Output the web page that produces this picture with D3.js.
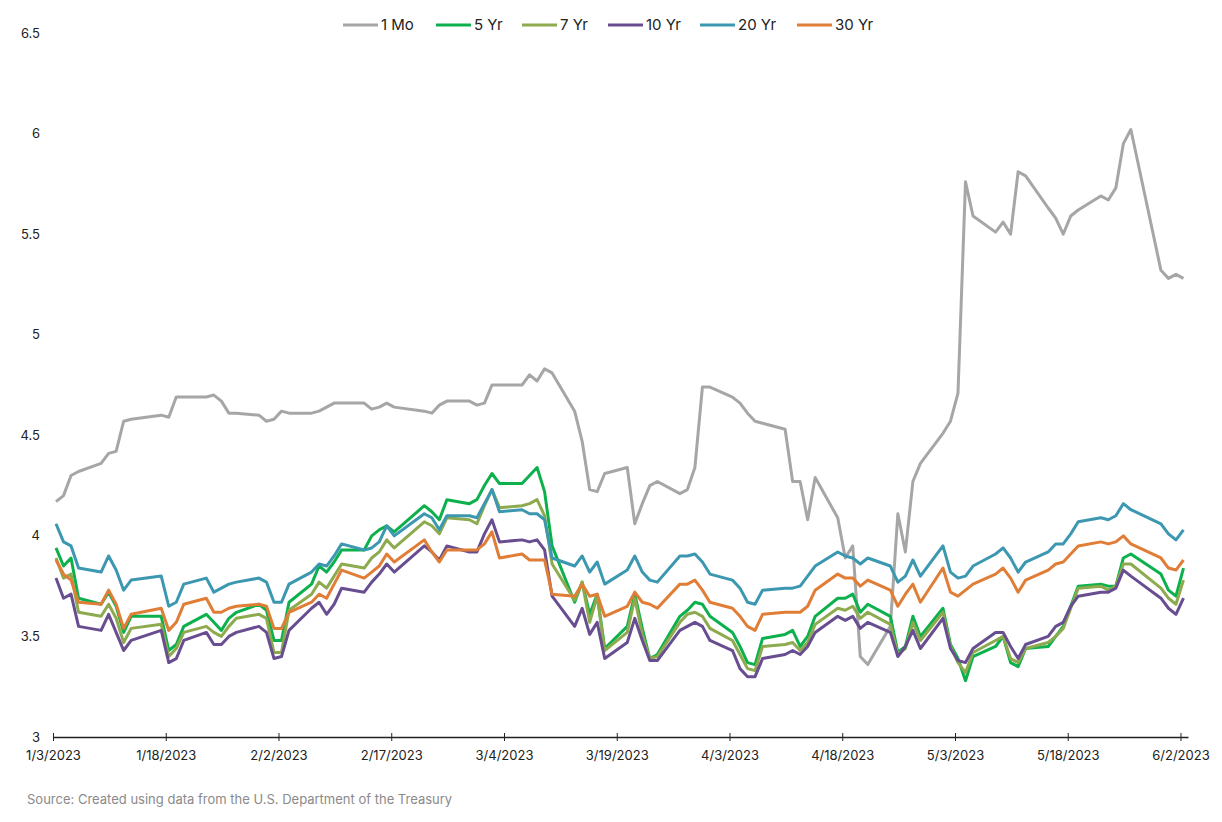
<!DOCTYPE html>
<html lang="en">
<head>
<meta charset="UTF-8">
<title>Treasury yields, Jan - Jun 2023</title>
<script src="https://d3js.org/d3.v7.min.js"></script>
<style>
  body { margin: 0; background: #fff; }
  svg { font-family: Inter, "Open Sans", sans-serif; }
</style>
</head>
<body>
<svg id="chart" width="1222" height="822"></svg>
<script>
// business days, 2023
const dates = [
  "1/3","1/4","1/5","1/6","1/9","1/10","1/11","1/12","1/13","1/17","1/18","1/19","1/20","1/23","1/24","1/25","1/26","1/27","1/30","1/31",
  "2/1","2/2","2/3","2/6","2/7","2/8","2/9","2/10","2/13","2/14","2/15","2/16","2/17","2/21","2/22","2/23","2/24","2/27","2/28",
  "3/1","3/2","3/3","3/6","3/7","3/8","3/9","3/10","3/13","3/14","3/15","3/16","3/17","3/20","3/21","3/22","3/23","3/24","3/27","3/28","3/29","3/30","3/31",
  "4/3","4/4","4/5","4/6","4/7","4/10","4/11","4/12","4/13","4/14","4/17","4/18","4/19","4/20","4/21","4/24","4/25","4/26","4/27","4/28",
  "5/1","5/2","5/3","5/4","5/5","5/8","5/9","5/10","5/11","5/12","5/15","5/16","5/17","5/18","5/19","5/22","5/23","5/24","5/25","5/26","5/30","5/31",
  "6/1","6/2"
];

const mo1 = [
  4.17,4.20,4.30,4.32,4.36,4.41,4.42,4.57,4.58,4.60,4.59,4.69,4.69,4.69,4.70,4.67,4.61,4.61,4.60,4.57,
  4.58,4.62,4.61,4.61,4.62,4.64,4.66,4.66,4.66,4.63,4.64,4.66,4.64,4.62,4.61,4.65,4.67,4.67,4.65,
  4.66,4.75,4.75,4.75,4.80,4.77,4.83,4.81,4.62,4.47,4.23,4.22,4.31,4.34,4.06,4.16,4.25,4.27,4.21,4.23,4.34,4.74,4.74,
  4.69,4.66,4.61,4.57,4.56,4.53,4.27,4.27,4.08,4.29,4.09,3.89,3.95,3.40,3.36,3.55,4.11,3.92,4.27,4.36,
  4.51,4.57,4.71,5.76,5.59,5.51,5.56,5.50,5.81,5.79,5.63,5.58,5.50,5.59,5.62,5.69,5.67,5.73,5.95,6.02,5.32,5.28,
  5.30,5.28
];
const yr5 = [
  3.94,3.85,3.89,3.69,3.66,3.72,3.65,3.52,3.60,3.60,3.43,3.46,3.55,3.61,3.57,3.53,3.59,3.62,3.66,3.63,
  3.48,3.48,3.67,3.76,3.85,3.82,3.87,3.93,3.93,4.00,4.03,4.05,4.02,4.15,4.12,4.08,4.18,4.16,4.18,
  4.25,4.31,4.26,4.26,4.30,4.34,4.22,3.95,3.67,3.77,3.61,3.71,3.44,3.55,3.71,3.54,3.39,3.41,3.60,3.63,3.67,3.66,3.60,
  3.52,3.45,3.37,3.36,3.49,3.51,3.53,3.45,3.50,3.60,3.69,3.69,3.71,3.62,3.66,3.60,3.42,3.45,3.60,3.50,
  3.64,3.46,3.39,3.28,3.40,3.45,3.50,3.37,3.35,3.44,3.45,3.50,3.55,3.65,3.75,3.76,3.75,3.75,3.89,3.91,3.81,3.73,
  3.70,3.84
];
const yr7 = [
  3.89,3.79,3.81,3.62,3.60,3.66,3.59,3.47,3.54,3.56,3.40,3.44,3.52,3.55,3.52,3.50,3.55,3.59,3.61,3.59,
  3.42,3.42,3.63,3.71,3.77,3.74,3.80,3.86,3.84,3.89,3.92,3.98,3.94,4.07,4.05,4.01,4.09,4.08,4.06,
  4.15,4.23,4.14,4.15,4.16,4.18,4.10,3.86,3.68,3.77,3.57,3.70,3.43,3.52,3.69,3.51,3.39,3.40,3.57,3.61,3.62,3.60,3.54,
  3.48,3.41,3.34,3.33,3.45,3.46,3.47,3.43,3.47,3.56,3.64,3.63,3.65,3.59,3.62,3.56,3.41,3.44,3.57,3.48,
  3.62,3.45,3.37,3.32,3.42,3.48,3.50,3.39,3.37,3.44,3.47,3.50,3.54,3.64,3.74,3.75,3.73,3.75,3.86,3.86,3.74,3.69,
  3.66,3.78
];
const yr10 = [
  3.79,3.69,3.71,3.55,3.53,3.61,3.52,3.43,3.48,3.53,3.37,3.39,3.48,3.52,3.46,3.46,3.50,3.52,3.55,3.52,
  3.39,3.40,3.53,3.64,3.67,3.61,3.66,3.74,3.72,3.77,3.81,3.86,3.82,3.95,3.92,3.88,3.95,3.92,3.92,
  4.01,4.08,3.97,3.98,3.97,3.98,3.93,3.70,3.55,3.64,3.51,3.57,3.39,3.47,3.59,3.48,3.38,3.38,3.53,3.55,3.57,3.55,3.48,
  3.43,3.34,3.30,3.30,3.39,3.41,3.43,3.41,3.45,3.52,3.60,3.58,3.60,3.54,3.57,3.52,3.40,3.45,3.53,3.44,
  3.59,3.44,3.38,3.37,3.44,3.52,3.52,3.45,3.39,3.46,3.50,3.55,3.57,3.65,3.70,3.72,3.72,3.74,3.83,3.80,3.69,3.64,
  3.61,3.69
];
const yr20 = [
  4.06,3.97,3.95,3.84,3.82,3.90,3.83,3.73,3.78,3.80,3.65,3.67,3.76,3.79,3.72,3.74,3.76,3.77,3.79,3.77,
  3.67,3.67,3.76,3.82,3.86,3.85,3.90,3.96,3.93,3.94,3.97,4.05,4.00,4.11,4.09,4.03,4.10,4.10,4.09,
  4.16,4.23,4.12,4.13,4.11,4.11,4.08,3.89,3.85,3.90,3.82,3.87,3.76,3.83,3.90,3.82,3.78,3.77,3.90,3.90,3.91,3.87,3.81,
  3.78,3.74,3.67,3.66,3.73,3.74,3.74,3.75,3.80,3.85,3.92,3.90,3.89,3.86,3.89,3.85,3.77,3.80,3.88,3.80,
  3.95,3.82,3.79,3.80,3.85,3.91,3.94,3.89,3.82,3.87,3.92,3.96,3.96,4.01,4.07,4.09,4.08,4.10,4.16,4.13,4.06,4.01,
  3.98,4.03
];
const yr30 = [
  3.88,3.81,3.78,3.67,3.66,3.73,3.66,3.54,3.61,3.64,3.53,3.57,3.66,3.69,3.62,3.62,3.64,3.65,3.66,3.65,
  3.54,3.54,3.62,3.67,3.71,3.69,3.76,3.83,3.79,3.82,3.85,3.91,3.87,3.98,3.92,3.87,3.93,3.93,3.93,
  3.96,4.02,3.89,3.91,3.88,3.88,3.88,3.71,3.70,3.76,3.70,3.71,3.60,3.65,3.72,3.67,3.66,3.64,3.76,3.76,3.78,3.73,3.67,
  3.64,3.60,3.55,3.53,3.61,3.62,3.62,3.62,3.65,3.73,3.81,3.79,3.79,3.75,3.78,3.73,3.65,3.71,3.76,3.67,
  3.84,3.72,3.70,3.73,3.76,3.81,3.84,3.79,3.72,3.78,3.83,3.86,3.87,3.91,3.95,3.97,3.96,3.97,4.00,3.96,3.89,3.84,
  3.83,3.88
];

const yTicks = [3, 3.5, 4, 4.5, 5, 5.5, 6, 6.5];
const xTickLabels = ["1/3","1/18","2/2","2/17","3/4","3/19","4/3","4/18","5/3","5/18","6/2"];

const series = [
  { name: "1 Mo",  color: "#a6a6a6", values: mo1 },
  { name: "5 Yr",  color: "#0cb04c", values: yr5 },
  { name: "7 Yr",  color: "#8dab4e", values: yr7 },
  { name: "10 Yr", color: "#684e90", values: yr10 },
  { name: "20 Yr", color: "#3c97b1", values: yr20 },
  { name: "30 Yr", color: "#e07d36", values: yr30 }
];

const parse = s => { const [m, d] = s.split("/").map(Number); return new Date(2023, m - 1, d); };
const days = dates.map(parse);

const svg = d3.select("#chart");

const x = d3.scaleTime()
  .domain([new Date(2023, 0, 3), new Date(2023, 5, 3)])
  .range([53, 1188]);
const y = d3.scaleLinear().domain([3, 6.5]).range([737, 33]);

// points sit a little past the day's tick, like the original
const pointShift = 3;

// y labels (no axis line, no grid)
svg.append("g")
  .selectAll("text")
  .data(yTicks)
  .join("text")
  .attr("x", 40)
  .attr("y", d => y(d))
  .attr("dy", "0.35em")
  .attr("text-anchor", "end")
  .attr("font-size", 13)
  .attr("fill", "#222")
  .text(d => String(d));

// x axis
const xAxis = svg.append("g")
  .attr("transform", `translate(0,${y(3)})`)
  .call(d3.axisBottom(x)
    .tickValues(xTickLabels.map(parse))
    .tickFormat(d3.timeFormat("%-m/%-d/%Y"))
    .tickSizeOuter(0));
xAxis.select(".domain").attr("stroke", "#222").attr("stroke-width", 1.4);
xAxis.selectAll(".tick line").attr("stroke", "#222").attr("y1", -4).attr("y2", 4);
xAxis.selectAll(".tick text")
  .attr("y", 14)
  .attr("font-size", 13)
  .attr("font-family", "Inter, 'Open Sans', sans-serif")
  .attr("fill", "#222");

// lines
const line = d3.line()
  .x((d, i) => x(days[i]) + pointShift)
  .y(d => y(d));

svg.append("g")
  .selectAll("path")
  .data(series)
  .join("path")
  .attr("fill", "none")
  .attr("stroke", d => d.color)
  .attr("stroke-width", 3)
  .attr("stroke-linejoin", "round")
  .attr("d", d => line(d.values));

// legend
const legendX = [343, 436, 522, 608, 700, 797];
const legend = svg.append("g")
  .selectAll("g")
  .data(series)
  .join("g")
  .attr("transform", (d, i) => `translate(${legendX[i]},25)`);
legend.append("line")
  .attr("x1", 0).attr("x2", 35)
  .attr("stroke", d => d.color)
  .attr("stroke-width", 3);
legend.append("text")
  .attr("x", 38)
  .attr("dy", "0.35em")
  .attr("font-size", 15)
  .attr("fill", "#222")
  .text(d => d.name);

// source note
svg.append("text")
  .attr("x", 27)
  .attr("y", 804)
  .attr("font-size", 13)
  .attr("fill", "#8a8a8a")
  .text("Source: Created using data from the U.S. Department of the Treasury");
</script>
</body>
</html>
